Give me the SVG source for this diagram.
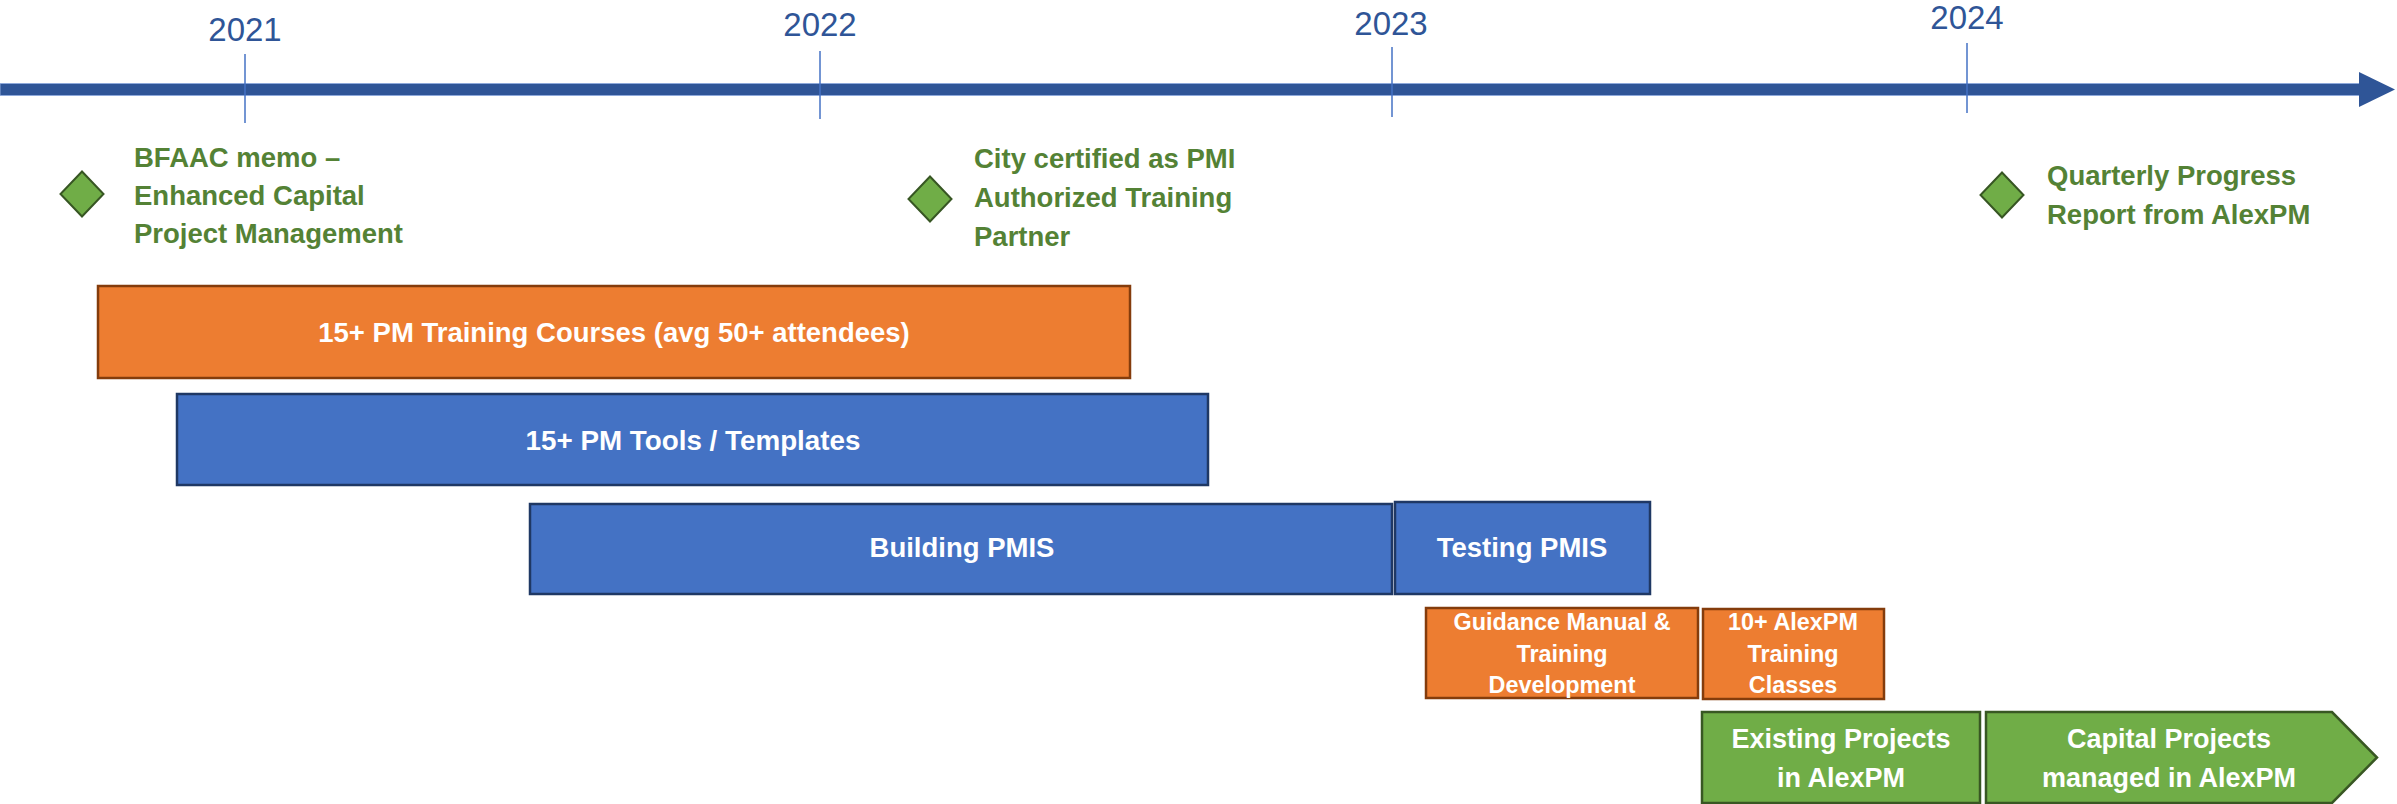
<svg xmlns="http://www.w3.org/2000/svg" width="2397" height="804" viewBox="0 0 2397 804">
<style>
text { font-family: "Liberation Sans", Arial, sans-serif; }
.year { font-size: 33px; fill: #2F5597; text-anchor: middle; }
.tick { stroke: #4472C4; stroke-width: 1.5; }
.ms { font-size: 27.5px; font-weight: bold; fill: #548235; }
.dia { fill: #70AD47; stroke: #375623; stroke-width: 2; }
.lbl { font-weight: bold; fill: #FFFFFF; text-anchor: middle; }
.orange { fill: #ED7D31; stroke: #843C0C; stroke-width: 2.5; }
.blue { fill: #4472C4; stroke: #1F3864; stroke-width: 2.5; }
.green { fill: #70AD47; stroke: #385723; stroke-width: 2.5; }
</style>
<rect width="2397" height="804" fill="#FFFFFF"/>
<g id="timeline">
  <rect x="0" y="83.5" width="2360" height="12" fill="#2F5597" stroke="#8EA9DB" stroke-width="1"/>
  <polygon points="2359,72 2395,89.5 2359,107" fill="#2F5597"/>
  <line class="tick" x1="245" y1="54" x2="245" y2="123"/>
  <line class="tick" x1="820" y1="51" x2="820" y2="119"/>
  <line class="tick" x1="1392" y1="47" x2="1392" y2="117"/>
  <line class="tick" x1="1967" y1="43" x2="1967" y2="113"/>
  <text class="year" x="245" y="41">2021</text>
  <text class="year" x="820" y="36">2022</text>
  <text class="year" x="1391" y="35">2023</text>
  <text class="year" x="1967" y="29">2024</text>
</g>
<g id="milestone-bfaac">
  <polygon class="dia" points="82,171.5 103.5,194 82,216.5 60.5,194"/>
  <text class="ms" x="134" y="167">BFAAC memo –</text>
  <text class="ms" x="134" y="205">Enhanced Capital</text>
  <text class="ms" x="134" y="243">Project Management</text>
</g>
<g id="milestone-pmi">
  <polygon class="dia" points="930,176.5 951.5,199 930,221.5 908.5,199"/>
  <text class="ms" x="974" y="168">City certified as PMI</text>
  <text class="ms" x="974" y="207">Authorized Training</text>
  <text class="ms" x="974" y="246">Partner</text>
</g>
<g id="milestone-quarterly">
  <polygon class="dia" points="2002,172.5 2023.5,195 2002,217.5 1980.5,195"/>
  <text class="ms" x="2047" y="185">Quarterly Progress</text>
  <text class="ms" x="2047" y="224">Report from AlexPM</text>
</g>
<g id="pm-training-courses">
  <rect class="orange" x="98" y="286" width="1032" height="92"/>
  <text class="lbl" x="614" y="342" font-size="27.5">15+ PM Training Courses (avg 50+ attendees)</text>
</g>
<g id="pm-tools">
  <rect class="blue" x="177" y="394" width="1031" height="91"/>
  <text class="lbl" x="693" y="450" font-size="27.8">15+ PM Tools / Templates</text>
</g>
<g id="building-pmis">
  <rect class="blue" x="530" y="504" width="862" height="90"/>
  <text class="lbl" x="962" y="557" font-size="27.5">Building PMIS</text>
</g>
<g id="testing-pmis">
  <rect class="blue" x="1395" y="502" width="255" height="92"/>
  <text class="lbl" x="1522" y="557" font-size="27.5">Testing PMIS</text>
</g>
<g id="guidance-manual">
  <rect class="orange" x="1426" y="608" width="272" height="90"/>
  <text class="lbl" x="1562" y="630" font-size="23.4">Guidance Manual &amp;</text>
  <text class="lbl" x="1562" y="662" font-size="23.4">Training</text>
  <text class="lbl" x="1562" y="693" font-size="23.4">Development</text>
</g>
<g id="alexpm-training">
  <rect class="orange" x="1703" y="609" width="181" height="90"/>
  <text class="lbl" x="1793" y="630" font-size="23.4">10+ AlexPM</text>
  <text class="lbl" x="1793" y="662" font-size="23.4">Training</text>
  <text class="lbl" x="1793" y="693" font-size="23.4">Classes</text>
</g>
<g id="existing-projects">
  <rect class="green" x="1702" y="712" width="278" height="91"/>
  <text class="lbl" x="1841" y="748" font-size="27">Existing Projects</text>
  <text class="lbl" x="1841" y="787" font-size="27">in AlexPM</text>
</g>
<g id="capital-projects">
  <polygon class="green" points="1986,712 2332,712 2377,757.5 2332,803 1986,803"/>
  <text class="lbl" x="2169" y="748" font-size="27">Capital Projects</text>
  <text class="lbl" x="2169" y="787" font-size="27">managed in AlexPM</text>
</g>
</svg>
